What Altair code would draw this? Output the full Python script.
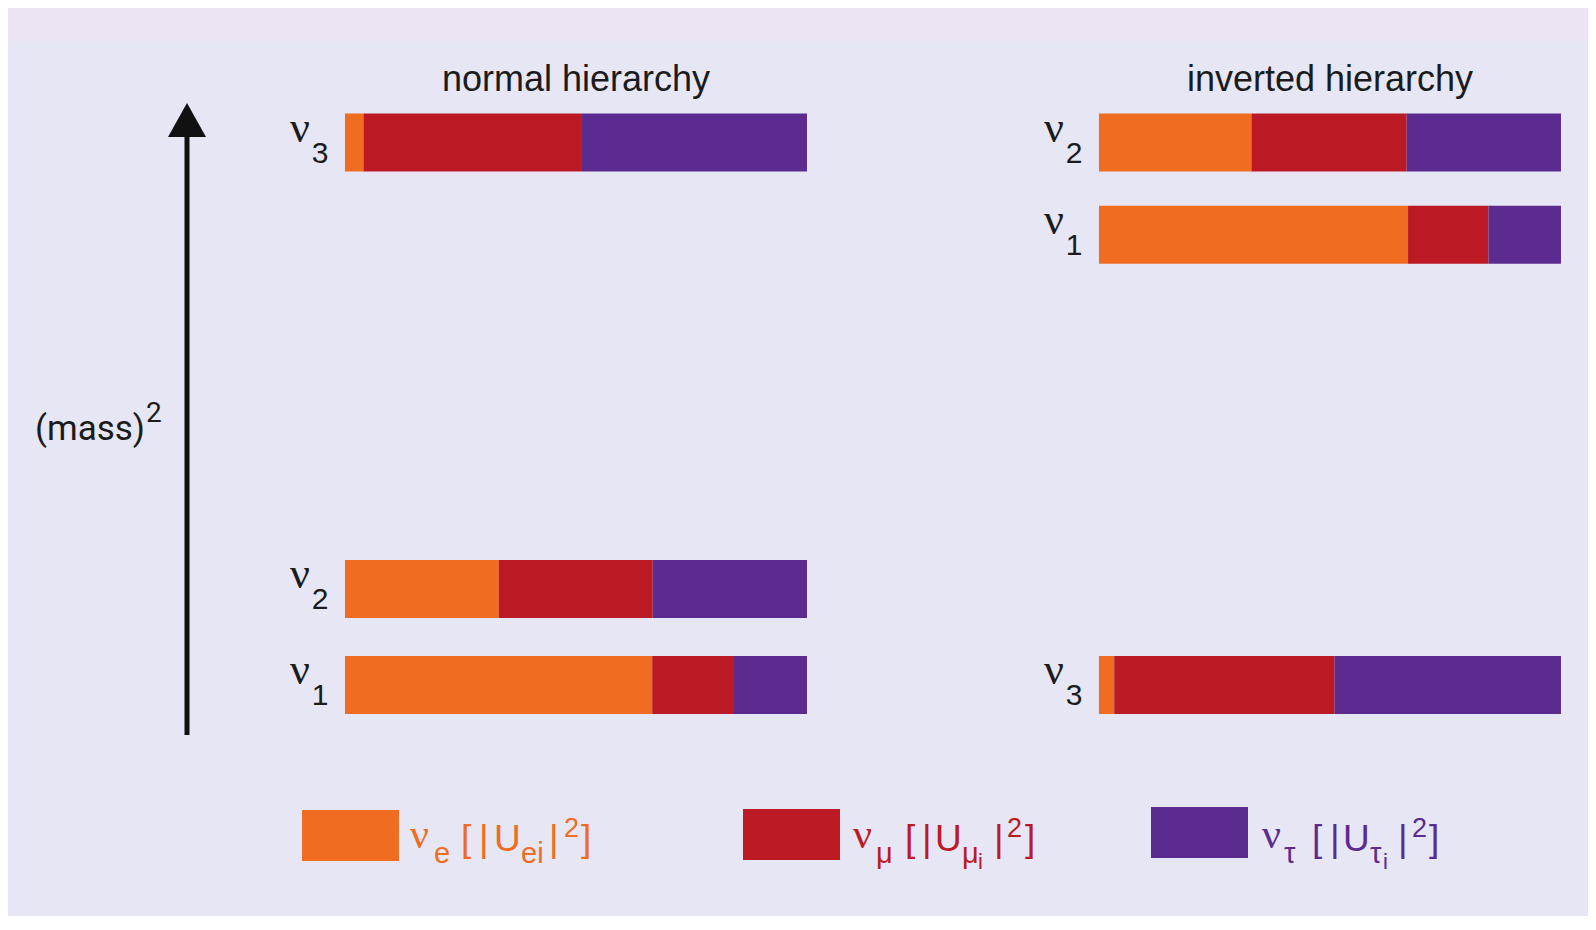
import altair as alt
import pandas as pd

# ---------------- data ----------------
hierarchies = ["normal hierarchy", "inverted hierarchy"]
states = ["1", "2", "3"]
flavours = ["e", "mu", "tau"]
flavour_colors = ["#EF6C21", "#BB1A24", "#5B2B8F"]

# (mass)^2 level of each state (arbitrary layout units), order: nu1, nu2, nu3
levels_normal = [0.0, 1.0, 5.65]
levels_inverted = [4.69, 5.65, 0.0]

# flavour content |U_fi|^2 of each state, order: nu1, nu2, nu3
ue_normal = [0.665, 0.333, 0.040]
umu_normal = [0.177, 0.333, 0.471]
utau_normal = [0.158, 0.334, 0.489]

ue_inverted = [0.669, 0.330, 0.033]
umu_inverted = [0.174, 0.336, 0.477]
utau_inverted = [0.157, 0.334, 0.490]

# ---------------- layout constants ----------------
W, H = 1580, 908
PANEL_SHIFT = {"normal hierarchy": 0.0, "inverted hierarchy": 1.632}
X_DOMAIN = [-0.7294, 2.6905]
Y_DOMAIN = [-2.406, 7.052]
HALF_BAR = 0.302
BG = "#E6E6F5"
BAND = "#ECE4F3"
TXT = "#1B1B1B"
SANS = "Liberation Sans, Arial, sans-serif"
SERIF = "Liberation Serif, DejaVu Serif, serif"

# ---------------- tables ----------------
levels = {"normal hierarchy": levels_normal, "inverted hierarchy": levels_inverted}
fracs = {
    "normal hierarchy": [ue_normal, umu_normal, utau_normal],
    "inverted hierarchy": [ue_inverted, umu_inverted, utau_inverted],
}
rows, lab_rows = [], []
for h in hierarchies:
    for i, s in enumerate(states):
        start = PANEL_SHIFT[h]
        lev = levels[h][i]
        lab_rows.append({"h": h, "state": s, "x": start, "lev": lev})
        for f, vals in zip(flavours, fracs[h]):
            rows.append({"h": h, "state": s, "flavour": f, "x0": start,
                         "x1": start + vals[i], "ylo": lev - HALF_BAR,
                         "yhi": lev + HALF_BAR})
            start += vals[i]
bars_df = pd.DataFrame(rows)
labels_df = pd.DataFrame(lab_rows)
titles_df = pd.DataFrame({"h": hierarchies,
                          "x": [PANEL_SHIFT[h] + 0.5 for h in hierarchies]})

xs = alt.Scale(domain=X_DOMAIN, nice=False, zero=False)
ys = alt.Scale(domain=Y_DOMAIN, nice=False, zero=False)

band = alt.Chart(alt.Data(values=[{}])).mark_rect(color=BAND).encode(
    x=alt.value(0), x2=alt.value(W), y=alt.value(0), y2=alt.value(33))

bars = alt.Chart(bars_df).mark_rect().encode(
    x=alt.X("x0:Q", scale=xs, axis=None),
    x2="x1:Q",
    y=alt.Y("ylo:Q", scale=ys, axis=None),
    y2="yhi:Q",
    color=alt.Color("flavour:N", scale=alt.Scale(domain=flavours, range=flavour_colors), legend=None),
)

nu_lab = alt.Chart(labels_df).mark_text(
    text="ν", font=SERIF, fontSize=44, color=TXT, align="center", baseline="alphabetic", dx=-45, dy=-1
).encode(x=alt.X("x:Q", scale=xs), y=alt.Y("lev:Q", scale=ys))

num_lab = alt.Chart(labels_df).mark_text(
    font=SANS, fontSize=30, color=TXT, align="center",
    baseline="alphabetic", dx=-25, dy=20
).encode(x=alt.X("x:Q", scale=xs), y=alt.Y("lev:Q", scale=ys), text="state:N")

titles = alt.Chart(titles_df).mark_text(
    font=SANS, fontSize=36, color=TXT, align="center", baseline="middle"
).encode(x=alt.X("x:Q", scale=xs), y=alt.value(72), text="h:N")

# arrow
stem = alt.Chart(alt.Data(values=[{}])).mark_rule(color="#111111", strokeWidth=5).encode(
    x=alt.value(179), y=alt.value(125), y2=alt.value(727))
head = alt.Chart(alt.Data(values=[{}])).mark_point(
    shape="M0,-0.9L1,0.9L-1,0.9Z", filled=True, color="#111111", opacity=1, size=38 * 38
).encode(x=alt.value(179), y=alt.value(112))

mass = alt.Chart(alt.Data(values=[{}])).mark_text(
    text="(mass)", font="Roboto, sans-serif", fontSize=35, color=TXT, align="center", baseline="alphabetic"
).encode(x=alt.value(82), y=alt.value(432))
mass2 = alt.Chart(alt.Data(values=[{}])).mark_text(
    text="2", font="Roboto, sans-serif", fontSize=28, color=TXT, align="left", baseline="alphabetic"
).encode(x=alt.value(138), y=alt.value(414))

# legend
legend_swatch = pd.DataFrame({
    "flavour": flavours,
    "x0": [294, 735, 1143], "x1": [391, 832, 1240],
    "y0": [802, 801, 799], "y1": [853, 852, 850],
})
swatches = alt.Chart(legend_swatch).mark_rect().encode(
    x=alt.X("x0:Q", scale=None), x2="x1:Q", y=alt.Y("y0:Q", scale=None), y2="y1:Q",
    color=alt.Color("flavour:N", scale=alt.Scale(domain=flavours, range=flavour_colors), legend=None),
)

styles = {  # kind: (font, size, baseline y)
    "nu": (SERIF, 42, 840),
    "main": (SANS, 37, 843),
    "sub": (SANS, 29, 855),
    "subsub": (SANS, 22, 861),
    "sup": (SANS, 27, 829),
}
pieces = {
    "e": (402, [("ν", 0, "nu"), ("e", 24, "sub"), ("[", 51, "main"), ("|", 69, "main"),
               ("U", 84, "main"), ("ei", 111, "sub"), ("|", 139, "main"),
               ("2", 154, "sup"), ("]", 171, "main")]),
    "mu": (845, [("ν", 0, "nu"), ("μ", 23, "sub"), ("[", 52, "main"), ("|", 69, "main"),
                 ("U", 82, "main"), ("μ", 109, "sub"), ("i", 125, "subsub"), ("|", 141, "main"),
                 ("2", 154, "sup"), ("]", 172, "main")]),
    "tau": (1254, [("ν", 0, "nu"), ("τ", 22, "sub"), ("[", 50, "main"), ("|", 68, "main"),
                   ("U", 81, "main"), ("τ", 108, "sub"), ("i", 121, "subsub"), ("|", 136, "main"),
                   ("2", 150, "sup"), ("]", 167, "main")]),
}
legend_text_layers = []
for f, col in zip(flavours, flavour_colors):
    x0, items = pieces[f]
    for kind in styles:
        sub = [{"t": t, "x": x0 + dx} for t, dx, k in items if k == kind]
        if not sub:
            continue
        font, size, by = styles[kind]
        legend_text_layers.append(
            alt.Chart(pd.DataFrame(sub)).mark_text(
                font=font, fontSize=size, color=col, align="left", baseline="alphabetic"
            ).encode(x=alt.X("x:Q", scale=None), y=alt.value(by), text="t:N")
        )

chart = alt.layer(
    band, bars, nu_lab, num_lab, titles, stem, head, mass, mass2, swatches, *legend_text_layers
).properties(
    width=W, height=H, background=BG, padding=0,
    autosize=alt.AutoSizeParams(type="fit", contains="padding"),
).configure_view(stroke=None)

chart.save("out.html", embed_options={"renderer": "svg", "actions": False})
